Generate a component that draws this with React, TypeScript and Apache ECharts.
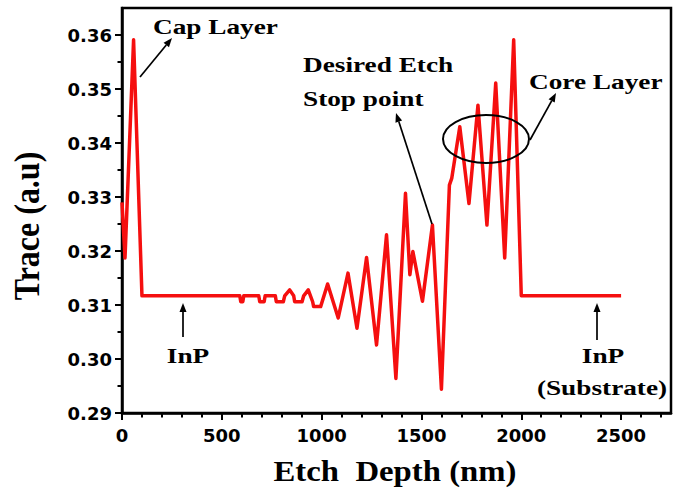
import React, { useEffect, useRef } from 'react';
import * as echarts from 'echarts';

// Etch depth (nm) and optical trace (a.u.)
const depthNm = [
  0, 15, 58, 100,
  590, 595, 605, 610,
  685, 690, 712, 717,
  768, 773, 808, 815, 840, 860, 865, 902, 910, 933, 955, 960, 995,
  1030, 1083, 1132, 1177, 1225, 1275, 1325, 1372, 1420, 1442, 1457, 1505, 1555, 1600,
  1640, 1652, 1692, 1738, 1783, 1828, 1872, 1917, 1962, 2000, 2500,
];
const traceAU = [
  0.329, 0.3187, 0.3591, 0.3117,
  0.3117, 0.3106, 0.3106, 0.3117,
  0.3117, 0.3106, 0.3106, 0.3117,
  0.3117, 0.3106, 0.3106, 0.3117, 0.3128, 0.3117, 0.3106, 0.3106, 0.3117, 0.3128, 0.3106, 0.3097, 0.3097,
  0.3139, 0.3076, 0.3159, 0.3057, 0.3188, 0.3026, 0.323, 0.2964, 0.3307, 0.3156, 0.3199, 0.3107, 0.3248, 0.2944,
  0.3322, 0.3335, 0.343, 0.3288, 0.347, 0.3248, 0.3511, 0.3187, 0.3591, 0.3117, 0.3117,
];

const xTickValues = [0, 500, 1000, 1500, 2000, 2500];
const yTickValues = [0.29, 0.3, 0.31, 0.32, 0.33, 0.34, 0.35, 0.36];
const xMinorValues: number[] = [];
for (let v = 100; v <= 2700; v += 100) if (v % 500 !== 0) xMinorValues.push(v);
const yMinorValues = [0.295, 0.305, 0.315, 0.325, 0.335, 0.345, 0.355];

const SERIF = '"Liberation Serif", "Times New Roman", serif';
const SANS = '"DejaVu Sans", sans-serif';
const RED = '#f50f0f';

function label(text: string, x: number, y: number, size: number, align: string = 'left', stretch = 1.24) {
  return {
    type: 'text',
    x,
    y,
    scaleX: stretch,
    style: {
      text,
      x: 0,
      y: 0,
      fill: '#000',
      fontFamily: SERIF,
      fontWeight: 'bold',
      fontSize: size,
      textAlign: align,
      textVerticalAlign: 'bottom',
    },
    z: 100,
  };
}

function arrow(x1: number, y1: number, x2: number, y2: number) {
  const ang = Math.atan2(y2 - y1, x2 - x1);
  const L = 9;
  const W = 3.5;
  const c = Math.cos(ang);
  const s = Math.sin(ang);
  const bx = x2 - L * c;
  const by = y2 - L * s;
  return [
    {
      type: 'line',
      shape: { x1, y1, x2: bx, y2: by },
      style: { stroke: '#000', lineWidth: 1.7 },
      z: 100,
    },
    {
      type: 'polygon',
      shape: { points: [[x2, y2], [bx + W * s, by - W * c], [bx - W * s, by + W * c]] },
      style: { fill: '#000' },
      z: 100,
    },
  ];
}

export default function App() {
  const ref = useRef<HTMLDivElement>(null);
  useEffect(() => {
    if (!ref.current) return;
    const chart = echarts.init(ref.current, null, { renderer: 'svg' });
    const data = depthNm.map((d, i) => [d, traceAU[i]]);
    const axisLine = { show: true, onZero: false, lineStyle: { color: '#000', width: 2.5 } };
    const tickLabel = {
      color: '#000',
      fontFamily: SANS,
      fontWeight: 'bold',
      fontSize: 18,
    };
    chart.setOption({
      animation: false,
      backgroundColor: '#fff',
      grid: {
        left: 122,
        right: 5,
        top: 8,
        bottom: 82,
        show: true,
        borderColor: '#000',
        borderWidth: 2.5,
        backgroundColor: 'transparent',
        outerBoundsMode: 'none',
        containLabel: false,
      },
      xAxis: [
        {
          type: 'value',
          min: 0,
          max: 2750,
          position: 'bottom',
          axisLine,
          axisTick: { show: true, inside: false, length: 7, lineStyle: { color: '#000', width: 2 }, customValues: xTickValues },
          axisLabel: { ...tickLabel, margin: 13, customValues: xTickValues, formatter: (v: number) => String(v) },
          splitLine: { show: false },
        },
        {
          type: 'value',
          min: 0,
          max: 2750,
          position: 'bottom',
          axisLine: { show: false, onZero: false },
          axisTick: { show: true, inside: false, length: 4.5, lineStyle: { color: '#000', width: 2 }, customValues: xMinorValues },
          axisLabel: { show: false },
          splitLine: { show: false },
        },
      ],
      yAxis: [
        {
          type: 'value',
          min: 0.29,
          max: 0.365,
          position: 'left',
          axisLine,
          axisTick: { show: true, inside: false, length: 7, lineStyle: { color: '#000', width: 2 }, customValues: yTickValues },
          axisLabel: { ...tickLabel, margin: 10, customValues: yTickValues, formatter: (v: number) => v.toFixed(2) },
          splitLine: { show: false },
        },
        {
          type: 'value',
          min: 0.29,
          max: 0.365,
          position: 'left',
          axisLine: { show: false, onZero: false },
          axisTick: { show: true, inside: false, length: 4.5, lineStyle: { color: '#000', width: 2 }, customValues: yMinorValues },
          axisLabel: { show: false },
          splitLine: { show: false },
        },
      ],
      series: [
        {
          type: 'line',
          xAxisIndex: 0,
          yAxisIndex: 0,
          data,
          showSymbol: false,
          symbol: 'none',
          lineStyle: { color: RED, width: 3.5, join: 'round' },
          itemStyle: { color: RED },
          z: 5,
        },
      ],
      graphic: [
        label('Cap Layer', 153, 37, 22),
        ...arrow(140, 77, 172, 38),
        label('Desired Etch', 303, 75, 22),
        label('Stop point', 303, 109, 22),
        ...arrow(432, 224, 396, 113),
        {
          type: 'ellipse',
          shape: { cx: 486, cy: 139, rx: 43, ry: 24 },
          style: { fill: 'none', stroke: '#000', lineWidth: 2 },
          z: 100,
        },
        ...arrow(530, 140, 556, 93),
        label('Core Layer', 529, 92, 22),
        ...arrow(183, 337, 183, 303),
        label('InP', 188, 366, 22, 'center'),
        ...arrow(597, 340, 597, 303),
        label('InP', 603, 366, 22, 'center'),
        label('(Substrate)', 602, 398, 22, 'center'),
        label('Etch  Depth (nm)', 395, 486, 29, 'center', 1.13),
        {
          type: 'text',
          x: 45,
          y: 226,
          rotation: Math.PI / 2,
          scaleY: 1.1,
          style: {
            text: 'Trace (a.u)',
            x: 0,
            y: 0,
            fill: '#000',
            fontFamily: SERIF,
            fontWeight: 'bold',
            fontSize: 32,
            textAlign: 'center',
            textVerticalAlign: 'bottom',
          },
          z: 100,
        },
      ],
    });
    return () => chart.dispose();
  }, []);
  return (
    <div
      ref={ref}
      style={{ position: 'fixed', left: 0, top: 0, width: 676, height: 495, background: '#fff' }}
    />
  );
}
